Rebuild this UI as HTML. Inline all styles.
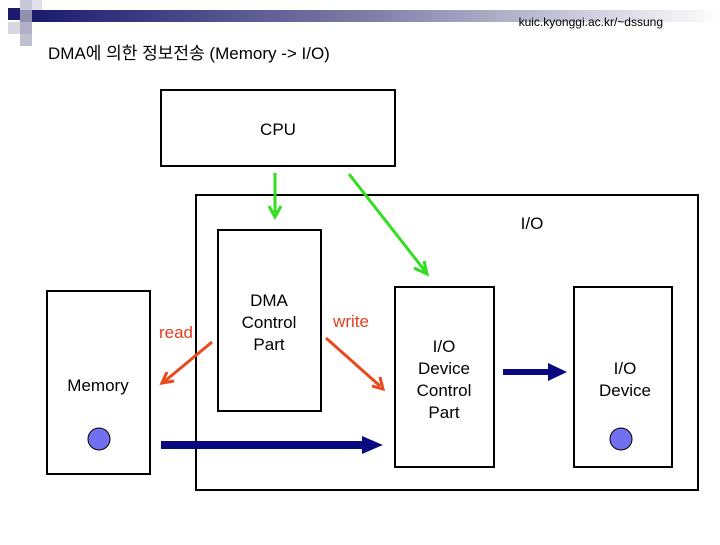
<!DOCTYPE html>
<html><head><meta charset="utf-8"><style>
body{margin:0;width:720px;height:540px;background:#fff;overflow:hidden;font-family:"Liberation Sans","Noto Sans CJK KR",sans-serif}
</style></head><body>
<svg width="720" height="540" xmlns="http://www.w3.org/2000/svg" font-family="Liberation Sans, Noto Sans CJK KR, sans-serif">
<defs>
<linearGradient id="g" x1="0" x2="1"><stop offset="0" stop-color="#1a1a6e"/><stop offset="0.5" stop-color="#8080a8"/><stop offset="1" stop-color="#ffffff"/></linearGradient>
</defs>
<rect x="30" y="10" width="690" height="12" fill="url(#g)"/>
<rect x="8" y="8" width="12" height="12" fill="#1a1a6e"/>
<rect x="20" y="0" width="12" height="10" fill="#c8c8d8"/>
<rect x="20" y="10" width="12" height="12" fill="#9090b0"/>
<rect x="32" y="0" width="10" height="10" fill="#e0e0e8"/>
<rect x="8" y="22" width="12" height="12" fill="#d8d8e0"/>
<rect x="20" y="22" width="12" height="12" fill="#b0b0c8"/>
<rect x="20" y="34" width="12" height="12" fill="#c0c0d0"/>
<text x="663" y="26" font-size="12" text-anchor="end">kuic.kyonggi.ac.kr/~dssung</text>
<text x="48" y="59" font-size="17">DMA에 의한 정보전송 (Memory -&gt; I/O)</text>
<g fill="none" stroke="#000" stroke-width="2">
<rect x="161" y="90" width="234" height="76"/>
<rect x="196" y="195" width="502" height="295"/>
<rect x="218" y="230" width="103" height="181"/>
<rect x="47" y="291" width="103" height="183"/>
<rect x="395" y="287" width="99" height="180"/>
<rect x="574" y="287" width="98" height="180"/>
</g>
<g font-size="17" text-anchor="middle">
<text x="278" y="135">CPU</text>
<text x="532" y="229">I/O</text>
<text x="269" y="306">DMA</text><text x="269" y="328">Control</text><text x="269" y="350">Part</text>
<text x="98" y="391">Memory</text>
<text x="444" y="352">I/O</text><text x="444" y="374">Device</text><text x="444" y="396">Control</text><text x="444" y="418">Part</text>
<text x="625" y="374">I/O</text><text x="625" y="396">Device</text>
<text x="176" y="338" fill="#e04020">read</text>
<text x="351" y="327" fill="#e04020">write</text>
</g>
<g stroke="#33dd22" stroke-width="3" fill="none">
<line x1="275" y1="173" x2="275" y2="213"/>
<polyline points="269,206 275,217 281,206"/>
<line x1="349" y1="174" x2="425" y2="271"/>
<polyline points="414,268 427,274 424,261"/>
</g>
<g stroke="#e84a1e" stroke-width="3" fill="none">
<line x1="212" y1="342" x2="165" y2="381"/>
<polyline points="167,372 162,383 174,381"/>
<line x1="326" y1="338" x2="380" y2="386"/>
<polyline points="372,386 383,389 380,377"/>
</g>
<line x1="161" y1="445" x2="365" y2="445" stroke="#0a0a80" stroke-width="8"/>
<polygon points="362,436 383,445 362,454" fill="#0a0a80"/>
<line x1="503" y1="372" x2="550" y2="372" stroke="#0a0a80" stroke-width="6"/>
<polygon points="548,363 567,372 548,381" fill="#0a0a80"/>
<circle cx="99" cy="439" r="11" fill="#7070f0" stroke="#000" stroke-width="1"/>
<circle cx="621" cy="439" r="11" fill="#7070f0" stroke="#000" stroke-width="1"/>
</svg>
</body></html>
